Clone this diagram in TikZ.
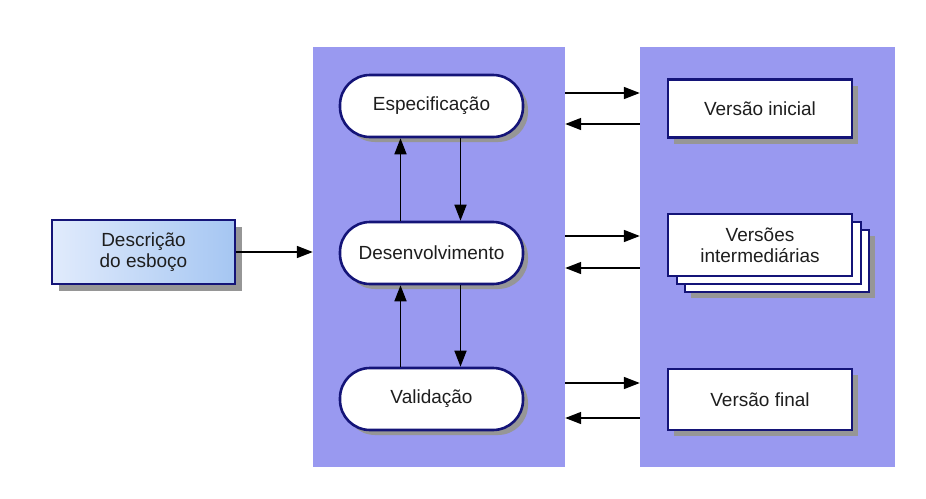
\documentclass[tikz,border=0pt]{standalone}
\usepackage{fontspec}
\setmainfont{Liberation Sans}
\usetikzlibrary{shadows,arrows.meta,calc}
\definecolor{panel}{RGB}{153,153,240}
\definecolor{navy}{RGB}{20,20,120}
\definecolor{shd}{RGB}{150,150,150}
\definecolor{txt}{RGB}{30,30,30}
\tikzset{
  lbl/.style={font=\fontsize{19}{21}\selectfont,text=txt},
  panelbox/.style={draw=none,fill=panel,minimum width=252pt,minimum height=420pt,inner sep=0pt},
  pill/.style={draw=navy,line width=2.6pt,fill=white,rounded corners=30pt,minimum width=183pt,minimum height=62pt,inner sep=0pt,lbl,
    drop shadow={shadow xshift=5pt,shadow yshift=-5pt,fill=shd,opacity=1}},
  vbox/.style={draw=navy,line width=2.6pt,fill=white,minimum width=184pt,minimum height=58pt,inner sep=0pt,align=center,lbl,
    drop shadow={shadow xshift=6pt,shadow yshift=-6pt,fill=shd,opacity=1}},
  stackbox/.style={draw=navy,line width=2.6pt,fill=white,minimum width=184pt,minimum height=62pt,inner sep=0pt},
  arr/.style={line width=1.6pt,-{Triangle[length=16pt,width=12pt]}}
}
\begin{document}
\begin{tikzpicture}[x=1pt,y=-1pt]
\useasboundingbox (0,0) rectangle (926,498);
\node[panelbox] (lp) at (439,257) {};
\node[panelbox,minimum width=255pt] (rp) at (767.5,257) {};
% left input box
\node[draw=navy,line width=2.6pt,left color={rgb,255:red,225;green,235;blue,252},right color={rgb,255:red,165;green,198;blue,242},minimum width=183pt,minimum height=64pt,align=center,inner sep=0pt,lbl,
  drop shadow={shadow xshift=7pt,shadow yshift=-7pt,fill=shd,opacity=1}] (desc) at (143.5,252) {Descrição\\do esboço};
% pills
\node[pill] (esp) at (431.5,106) {Especificação};
\node[pill] (dev) at (431.5,253) {Desenvolvimento};
\node[pill] (val) at (431.5,399) {Validação};
% right boxes
\node[vbox] (vi) at (760,108.5) {Versão inicial};
\node[stackbox,drop shadow={shadow xshift=6pt,shadow yshift=-6pt,fill=shd,opacity=1}] (s3) at (777,261) {};
\node[stackbox] (s2) at (769,253) {};
\node[stackbox,align=center,lbl] (vm) at (760,245) {Versões\\intermediárias};
\node[vbox,minimum height=61pt] (vf) at (760,399.5) {Versão final};
% arrows
\draw[arr] (desc.east) -- (desc.east -| lp.west);
\draw[arr] ([xshift=-31pt]dev.north) -- ([xshift=-31pt]esp.south);
\draw[arr] ([xshift=29pt]esp.south) -- ([xshift=29pt]dev.north);
\draw[arr] ([xshift=-31pt]val.north) -- ([xshift=-31pt]dev.south);
\draw[arr] ([xshift=29pt]dev.south) -- ([xshift=29pt]val.north);
\draw[arr] ([yshift=13pt]esp.east -| lp.east) -- ([yshift=13pt]esp.east -| rp.west);
\draw[arr] ([yshift=-18pt]esp.east -| rp.west) -- ([yshift=-18pt]esp.east -| lp.east);
\draw[arr] ([yshift=17pt]dev.east -| lp.east) -- ([yshift=17pt]dev.east -| rp.west);
\draw[arr] ([yshift=-15pt]dev.east -| rp.west) -- ([yshift=-15pt]dev.east -| lp.east);
\draw[arr] ([yshift=16pt]val.east -| lp.east) -- ([yshift=16pt]val.east -| rp.west);
\draw[arr] ([yshift=-19pt]val.east -| rp.west) -- ([yshift=-19pt]val.east -| lp.east);
\end{tikzpicture}
\end{document}
